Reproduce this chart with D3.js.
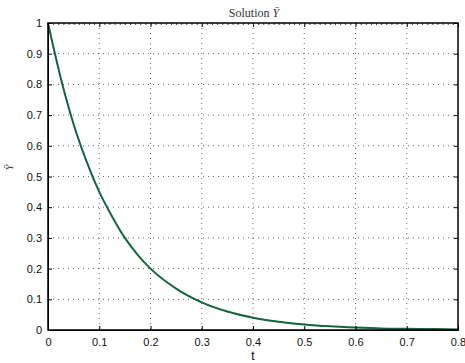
<!DOCTYPE html>
<html>
<head>
<meta charset="utf-8">
<script src="https://cdn.jsdelivr.net/npm/d3@7"></script>
<style>
  body { margin: 0; background: #fff; }
  svg { display: block; }
</style>
</head>
<body>
<div id="chart"></div>
<script>
// values
const tValues = [0, 0.025, 0.05, 0.075, 0.1, 0.125, 0.15, 0.175, 0.2, 0.25, 0.3, 0.35, 0.4, 0.45, 0.5, 0.55, 0.6, 0.65, 0.7, 0.75, 0.8];
const yValues = [1, 0.82, 0.67, 0.55, 0.45, 0.37, 0.30, 0.245, 0.20, 0.135, 0.09, 0.06, 0.04, 0.027, 0.018, 0.012, 0.008, 0.005, 0.004, 0.003, 0.002];
const xTicks = [0, 0.1, 0.2, 0.3, 0.4, 0.5, 0.6, 0.7, 0.8];
const yTicks = [0, 0.1, 0.2, 0.3, 0.4, 0.5, 0.6, 0.7, 0.8, 0.9, 1];

const margin = {top: 23, right: 7, bottom: 33, left: 48},
  width = 465 - margin.left - margin.right,
  height = 363 - margin.top - margin.bottom;

const svg = d3.select("#chart")
  .append("svg")
    .attr("width", 465)
    .attr("height", 363)
  .append("g")
    .attr("transform", "translate(" + margin.left + "," + margin.top + ")");

const x = d3.scaleLinear().domain([0, 0.8]).range([0, width]);
const y = d3.scaleLinear().domain([0, 1]).range([height, 0]);

// dotted grid
svg.append("g").selectAll("line")
  .data(xTicks.slice(1, -1))
  .enter().append("line")
    .attr("x1", d => x(d)).attr("x2", d => x(d))
    .attr("y1", 0).attr("y2", height)
    .attr("stroke", "#666").attr("stroke-width", 1)
    .attr("stroke-dasharray", "1,4");
svg.append("g").selectAll("line")
  .data(yTicks.slice(1, -1))
  .enter().append("line")
    .attr("y1", d => y(d)).attr("y2", d => y(d))
    .attr("x1", 0).attr("x2", width)
    .attr("stroke", "#666").attr("stroke-width", 1)
    .attr("stroke-dasharray", "1,4");

// curves (two overlapping series)
const line = d3.line()
  .x((d, i) => x(tValues[i]))
  .y(d => y(d))
  .curve(d3.curveMonotoneX);
svg.append("path")
  .attr("fill", "none")
  .attr("stroke", "#0b7a2e")
  .attr("stroke-width", 2)
  .attr("d", line(yValues));
svg.append("path")
  .attr("fill", "none")
  .attr("stroke", "#24545a")
  .attr("stroke-width", 1)
  .attr("d", line(yValues));

// axes, ticks inward
const font = "'Liberation Sans', Arial, sans-serif";
svg.append("g")
  .attr("transform", "translate(0," + height + ")")
  .call(d3.axisBottom(x).tickValues(xTicks).tickSize(-4).tickPadding(8).tickFormat(d3.format("~g")))
  .call(g => g.selectAll("text").style("font-family", font).style("font-size", "11px").attr("fill", "#111"));
svg.append("g")
  .call(d3.axisLeft(y).tickValues(yTicks).tickSize(-4).tickPadding(6).tickFormat(d3.format("~g")))
  .call(g => g.selectAll("text").style("font-family", font).style("font-size", "11px").attr("fill", "#111"));
svg.append("g")
  .call(d3.axisTop(x).tickValues(xTicks).tickSize(-4).tickFormat(""))
  .call(g => g.select(".domain").remove());
svg.append("g")
  .attr("transform", "translate(" + width + ",0)")
  .call(d3.axisRight(y).tickValues(yTicks).tickSize(-4).tickFormat(""))
  .call(g => g.select(".domain").remove());

// minor ticks along top edge
svg.append("g")
  .call(d3.axisTop(x).ticks(80).tickSize(-2).tickFormat(""))
  .call(g => g.select(".domain").remove())
  .call(g => g.selectAll("line").attr("stroke", "#444"));

// box
svg.append("rect")
  .attr("width", width).attr("height", height)
  .attr("fill", "none").attr("stroke", "#000").attr("stroke-width", 1.5);

// labels
svg.append("text")
  .attr("x", width / 2 + 1).attr("y", -6)
  .attr("text-anchor", "middle")
  .attr("fill", "#333")
  .style("font-family", "'Liberation Serif', serif").style("font-size", "12px")
  .html("Solution <tspan font-style='italic'>Y\u0304</tspan>");
svg.append("text")
  .attr("x", width / 2).attr("y", height + 30)
  .attr("text-anchor", "middle")
  .style("font-family", font).style("font-size", "12px")
  .text("t");
svg.append("text")
  .attr("transform", "translate(-35," + (height / 2 - 9) + ") rotate(-90)")
  .attr("text-anchor", "middle")
  .attr("fill", "#333")
  .style("font-family", "'Liberation Serif', serif").style("font-size", "10px").style("font-style", "italic")
  .text("Y\u0304");
</script>
</body>
</html>
